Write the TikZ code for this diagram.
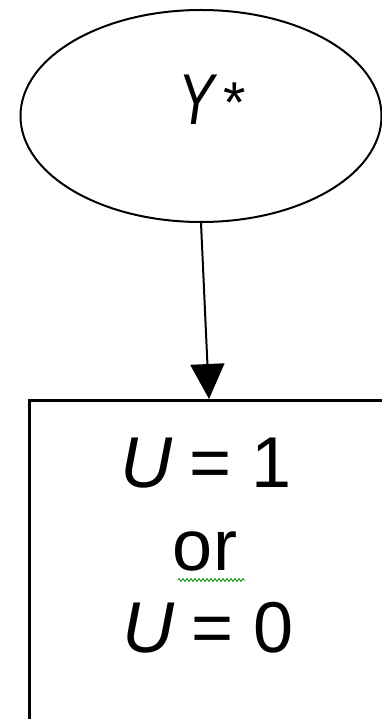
\documentclass[tikz,border=0pt]{standalone}
\usepackage{fontspec}
\setmainfont{Liberation Sans}
\usetikzlibrary{shapes.geometric,arrows.meta,decorations.pathmorphing}
\tikzset{
  shapeline/.style={draw=black, line width=2pt},
  bigtext/.style={font=\fontsize{72}{82}\selectfont, inner sep=0pt, anchor=base},
}
\begin{document}
\begin{tikzpicture}[x=1pt,y=-1pt]
\useasboundingbox (0,0) rectangle (382,719);
\clip (0,0) rectangle (382,719);
\fill[white] (0,0) rectangle (382,719);
% ellipse
\node[shapeline, ellipse, minimum width=361pt, minimum height=212pt, inner sep=0pt] (ys) at (201,116) {};
\node[bigtext] (ylabel) at (212,125) {\scalebox{0.75}[1]{\textit{Y}}\hspace{6pt}\raisebox{2pt}{\scalebox{0.8}{*}}};
% box
\node[draw=black, line width=3pt, rectangle, minimum width=359pt, minimum height=380pt, inner sep=0pt, anchor=north west] (box) at (27.5,399) {};
% arrow
\draw[line width=2pt, -{Triangle[length=35pt,width=34pt]}] (ys.south) -- (box.north -| 209,0);
% text
\node[bigtext] (u1) at (206,487) {\textit{U}\hspace{16pt}=\hspace{20pt}1};
\node[bigtext] (or) at (205,570) {or};
\node[bigtext] (u0) at (208,652) {\textit{U}\hspace{16pt}=\hspace{20pt}0};
% spell-check underline
\draw[green!55!black, line width=0.8pt, decorate, decoration={zigzag, segment length=4pt, amplitude=1.5pt}] (178,580) -- (245,580);
\end{tikzpicture}
\end{document}
